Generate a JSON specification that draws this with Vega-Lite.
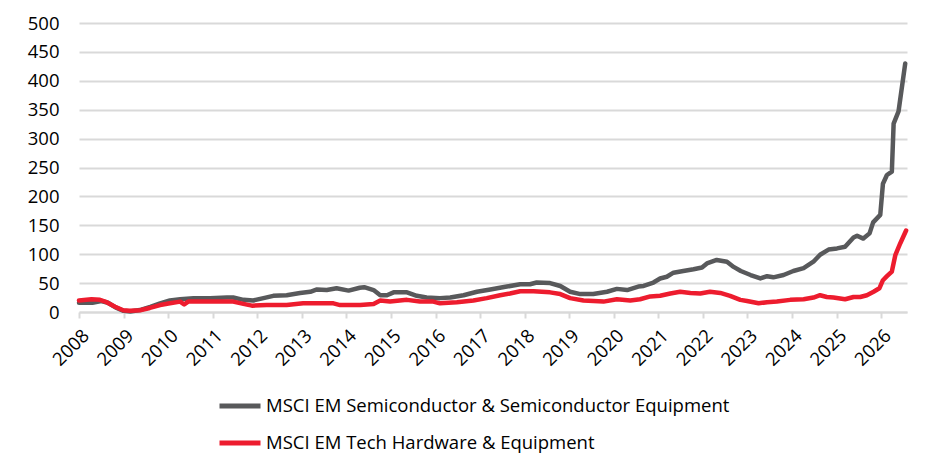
{
  "$schema": "https://vega.github.io/schema/vega-lite/v6.json",
  "width": 828,
  "height": 289,
  "autosize": "none",
  "padding": {"left": 79, "top": 23, "right": 40, "bottom": 162},
  "background": "white",
  "config": {"view": {"stroke": null}, "font": "Open Sans"},
  "data": {
    "values": [
      {"s": "semi", "t": 2008.00, "v": 16},
      {"s": "semi", "t": 2008.30, "v": 16},
      {"s": "semi", "t": 2008.50, "v": 19},
      {"s": "semi", "t": 2008.65, "v": 16},
      {"s": "semi", "t": 2008.82, "v": 8},
      {"s": "semi", "t": 2009.00, "v": 2},
      {"s": "semi", "t": 2009.15, "v": 1},
      {"s": "semi", "t": 2009.40, "v": 4},
      {"s": "semi", "t": 2009.60, "v": 9},
      {"s": "semi", "t": 2009.82, "v": 15},
      {"s": "semi", "t": 2010.04, "v": 20},
      {"s": "semi", "t": 2010.27, "v": 22},
      {"s": "semi", "t": 2010.57, "v": 24},
      {"s": "semi", "t": 2010.94, "v": 24},
      {"s": "semi", "t": 2011.32, "v": 25},
      {"s": "semi", "t": 2011.46, "v": 25},
      {"s": "semi", "t": 2011.69, "v": 21},
      {"s": "semi", "t": 2011.91, "v": 20},
      {"s": "semi", "t": 2012.14, "v": 24},
      {"s": "semi", "t": 2012.36, "v": 28},
      {"s": "semi", "t": 2012.66, "v": 29},
      {"s": "semi", "t": 2012.96, "v": 33},
      {"s": "semi", "t": 2013.19, "v": 35},
      {"s": "semi", "t": 2013.34, "v": 39},
      {"s": "semi", "t": 2013.56, "v": 38},
      {"s": "semi", "t": 2013.78, "v": 41},
      {"s": "semi", "t": 2014.05, "v": 37},
      {"s": "semi", "t": 2014.30, "v": 42},
      {"s": "semi", "t": 2014.40, "v": 43},
      {"s": "semi", "t": 2014.61, "v": 38},
      {"s": "semi", "t": 2014.76, "v": 29},
      {"s": "semi", "t": 2014.91, "v": 29},
      {"s": "semi", "t": 2015.06, "v": 34},
      {"s": "semi", "t": 2015.36, "v": 34},
      {"s": "semi", "t": 2015.58, "v": 28},
      {"s": "semi", "t": 2015.80, "v": 25},
      {"s": "semi", "t": 2016.10, "v": 24},
      {"s": "semi", "t": 2016.33, "v": 25},
      {"s": "semi", "t": 2016.63, "v": 29},
      {"s": "semi", "t": 2016.93, "v": 35},
      {"s": "semi", "t": 2017.23, "v": 39},
      {"s": "semi", "t": 2017.60, "v": 44},
      {"s": "semi", "t": 2017.90, "v": 48},
      {"s": "semi", "t": 2018.12, "v": 48},
      {"s": "semi", "t": 2018.27, "v": 51},
      {"s": "semi", "t": 2018.57, "v": 50},
      {"s": "semi", "t": 2018.80, "v": 45},
      {"s": "semi", "t": 2019.02, "v": 35},
      {"s": "semi", "t": 2019.25, "v": 31},
      {"s": "semi", "t": 2019.54, "v": 31},
      {"s": "semi", "t": 2019.85, "v": 35},
      {"s": "semi", "t": 2020.07, "v": 40},
      {"s": "semi", "t": 2020.30, "v": 38},
      {"s": "semi", "t": 2020.55, "v": 44},
      {"s": "semi", "t": 2020.67, "v": 45},
      {"s": "semi", "t": 2020.89, "v": 51},
      {"s": "semi", "t": 2021.04, "v": 58},
      {"s": "semi", "t": 2021.19, "v": 61},
      {"s": "semi", "t": 2021.34, "v": 68},
      {"s": "semi", "t": 2021.56, "v": 71},
      {"s": "semi", "t": 2021.79, "v": 74},
      {"s": "semi", "t": 2021.98, "v": 77},
      {"s": "semi", "t": 2022.09, "v": 84},
      {"s": "semi", "t": 2022.31, "v": 90},
      {"s": "semi", "t": 2022.54, "v": 87},
      {"s": "semi", "t": 2022.69, "v": 78},
      {"s": "semi", "t": 2022.85, "v": 71},
      {"s": "semi", "t": 2023.07, "v": 64},
      {"s": "semi", "t": 2023.29, "v": 58},
      {"s": "semi", "t": 2023.44, "v": 62},
      {"s": "semi", "t": 2023.58, "v": 60},
      {"s": "semi", "t": 2023.81, "v": 64},
      {"s": "semi", "t": 2024.03, "v": 71},
      {"s": "semi", "t": 2024.26, "v": 76},
      {"s": "semi", "t": 2024.48, "v": 87},
      {"s": "semi", "t": 2024.63, "v": 99},
      {"s": "semi", "t": 2024.82, "v": 108},
      {"s": "semi", "t": 2025.01, "v": 110},
      {"s": "semi", "t": 2025.19, "v": 113},
      {"s": "semi", "t": 2025.38, "v": 129},
      {"s": "semi", "t": 2025.46, "v": 132},
      {"s": "semi", "t": 2025.60, "v": 127},
      {"s": "semi", "t": 2025.74, "v": 136},
      {"s": "semi", "t": 2025.82, "v": 155},
      {"s": "semi", "t": 2025.98, "v": 168},
      {"s": "semi", "t": 2026.04, "v": 222},
      {"s": "semi", "t": 2026.13, "v": 237},
      {"s": "semi", "t": 2026.24, "v": 243},
      {"s": "semi", "t": 2026.28, "v": 326},
      {"s": "semi", "t": 2026.39, "v": 347},
      {"s": "semi", "t": 2026.54, "v": 430},
      {"s": "hw", "t": 2008.00, "v": 20},
      {"s": "hw", "t": 2008.28, "v": 22},
      {"s": "hw", "t": 2008.47, "v": 21},
      {"s": "hw", "t": 2008.62, "v": 17},
      {"s": "hw", "t": 2008.81, "v": 9},
      {"s": "hw", "t": 2008.99, "v": 3},
      {"s": "hw", "t": 2009.14, "v": 2},
      {"s": "hw", "t": 2009.37, "v": 3},
      {"s": "hw", "t": 2009.59, "v": 7},
      {"s": "hw", "t": 2009.82, "v": 12},
      {"s": "hw", "t": 2010.04, "v": 15},
      {"s": "hw", "t": 2010.27, "v": 18},
      {"s": "hw", "t": 2010.36, "v": 13},
      {"s": "hw", "t": 2010.45, "v": 18},
      {"s": "hw", "t": 2010.94, "v": 18},
      {"s": "hw", "t": 2011.46, "v": 18},
      {"s": "hw", "t": 2011.69, "v": 14},
      {"s": "hw", "t": 2011.88, "v": 11},
      {"s": "hw", "t": 2012.21, "v": 12},
      {"s": "hw", "t": 2012.66, "v": 12},
      {"s": "hw", "t": 2013.03, "v": 15},
      {"s": "hw", "t": 2013.71, "v": 15},
      {"s": "hw", "t": 2013.86, "v": 12},
      {"s": "hw", "t": 2014.31, "v": 12},
      {"s": "hw", "t": 2014.61, "v": 14},
      {"s": "hw", "t": 2014.76, "v": 20},
      {"s": "hw", "t": 2014.98, "v": 18},
      {"s": "hw", "t": 2015.36, "v": 21},
      {"s": "hw", "t": 2015.65, "v": 18},
      {"s": "hw", "t": 2015.95, "v": 18},
      {"s": "hw", "t": 2016.10, "v": 15},
      {"s": "hw", "t": 2016.48, "v": 17},
      {"s": "hw", "t": 2016.85, "v": 20},
      {"s": "hw", "t": 2017.15, "v": 24},
      {"s": "hw", "t": 2017.45, "v": 29},
      {"s": "hw", "t": 2017.67, "v": 32},
      {"s": "hw", "t": 2017.90, "v": 36},
      {"s": "hw", "t": 2018.20, "v": 36},
      {"s": "hw", "t": 2018.57, "v": 34},
      {"s": "hw", "t": 2018.80, "v": 31},
      {"s": "hw", "t": 2019.02, "v": 24},
      {"s": "hw", "t": 2019.32, "v": 20},
      {"s": "hw", "t": 2019.77, "v": 18},
      {"s": "hw", "t": 2020.07, "v": 22},
      {"s": "hw", "t": 2020.37, "v": 20},
      {"s": "hw", "t": 2020.59, "v": 22},
      {"s": "hw", "t": 2020.82, "v": 27},
      {"s": "hw", "t": 2021.04, "v": 28},
      {"s": "hw", "t": 2021.27, "v": 32},
      {"s": "hw", "t": 2021.49, "v": 35},
      {"s": "hw", "t": 2021.72, "v": 33},
      {"s": "hw", "t": 2021.94, "v": 32},
      {"s": "hw", "t": 2022.16, "v": 35},
      {"s": "hw", "t": 2022.39, "v": 33},
      {"s": "hw", "t": 2022.61, "v": 28},
      {"s": "hw", "t": 2022.84, "v": 21},
      {"s": "hw", "t": 2022.99, "v": 19},
      {"s": "hw", "t": 2023.25, "v": 15},
      {"s": "hw", "t": 2023.44, "v": 17},
      {"s": "hw", "t": 2023.66, "v": 18},
      {"s": "hw", "t": 2023.96, "v": 21},
      {"s": "hw", "t": 2024.26, "v": 22},
      {"s": "hw", "t": 2024.48, "v": 25},
      {"s": "hw", "t": 2024.63, "v": 29},
      {"s": "hw", "t": 2024.78, "v": 26},
      {"s": "hw", "t": 2024.93, "v": 25},
      {"s": "hw", "t": 2025.19, "v": 22},
      {"s": "hw", "t": 2025.38, "v": 26},
      {"s": "hw", "t": 2025.53, "v": 26},
      {"s": "hw", "t": 2025.68, "v": 29},
      {"s": "hw", "t": 2025.83, "v": 35},
      {"s": "hw", "t": 2025.96, "v": 41},
      {"s": "hw", "t": 2026.04, "v": 55},
      {"s": "hw", "t": 2026.13, "v": 62},
      {"s": "hw", "t": 2026.24, "v": 70},
      {"s": "hw", "t": 2026.32, "v": 99},
      {"s": "hw", "t": 2026.43, "v": 119},
      {"s": "hw", "t": 2026.56, "v": 141}
    ]
  },
  "mark": {"type": "line", "strokeWidth": 4.5, "strokeJoin": "round", "strokeCap": "round"},
  "encoding": {
    "x": {
      "field": "t",
      "type": "quantitative",
      "scale": {"domain": [2008, 2026.58], "nice": false, "zero": false},
      "axis": {
        "title": null,
        "values": [2008, 2009, 2010, 2011, 2012, 2013, 2014, 2015, 2016, 2017, 2018, 2019, 2020, 2021, 2022, 2023, 2024, 2025, 2026],
        "format": "d",
        "labelAngle": -45,
        "grid": false,
        "domainColor": "#d9d9d9",
        "domainWidth": 2,
        "tickColor": "#d9d9d9",
        "tickWidth": 2,
        "tickSize": 6,
        "labelFontSize": 18.5,
        "labelColor": "#000000",
        "labelPadding": 8
      }
    },
    "y": {
      "field": "v",
      "type": "quantitative",
      "scale": {"domain": [0, 500], "nice": false},
      "axis": {
        "title": null,
        "values": [0, 50, 100, 150, 200, 250, 300, 350, 400, 450, 500],
        "domain": false,
        "ticks": false,
        "gridColor": "#d9d9d9",
        "gridWidth": 2,
        "labelFontSize": 18.5,
        "labelColor": "#000000",
        "labelPadding": 20
      }
    },
    "color": {
      "field": "s",
      "type": "nominal",
      "scale": {"domain": ["semi", "hw"], "range": ["#58595b", "#ed1c2e"]},
      "legend": {
        "title": null,
        "orient": "none",
        "legendX": 138,
        "legendY": 360,
        "direction": "vertical",
        "symbolType": "stroke",
        "symbolSize": 1681,
        "symbolStrokeWidth": 5,
        "labelFontSize": 18.5,
        "labelColor": "#000000",
        "labelOffset": 3,
        "labelLimit": 0,
        "rowPadding": 4,
        "labelExpr": "datum.value == 'semi' ? 'MSCI EM Semiconductor & Semiconductor Equipment' : 'MSCI EM Tech Hardware & Equipment'"
      }
    }
  }
}
